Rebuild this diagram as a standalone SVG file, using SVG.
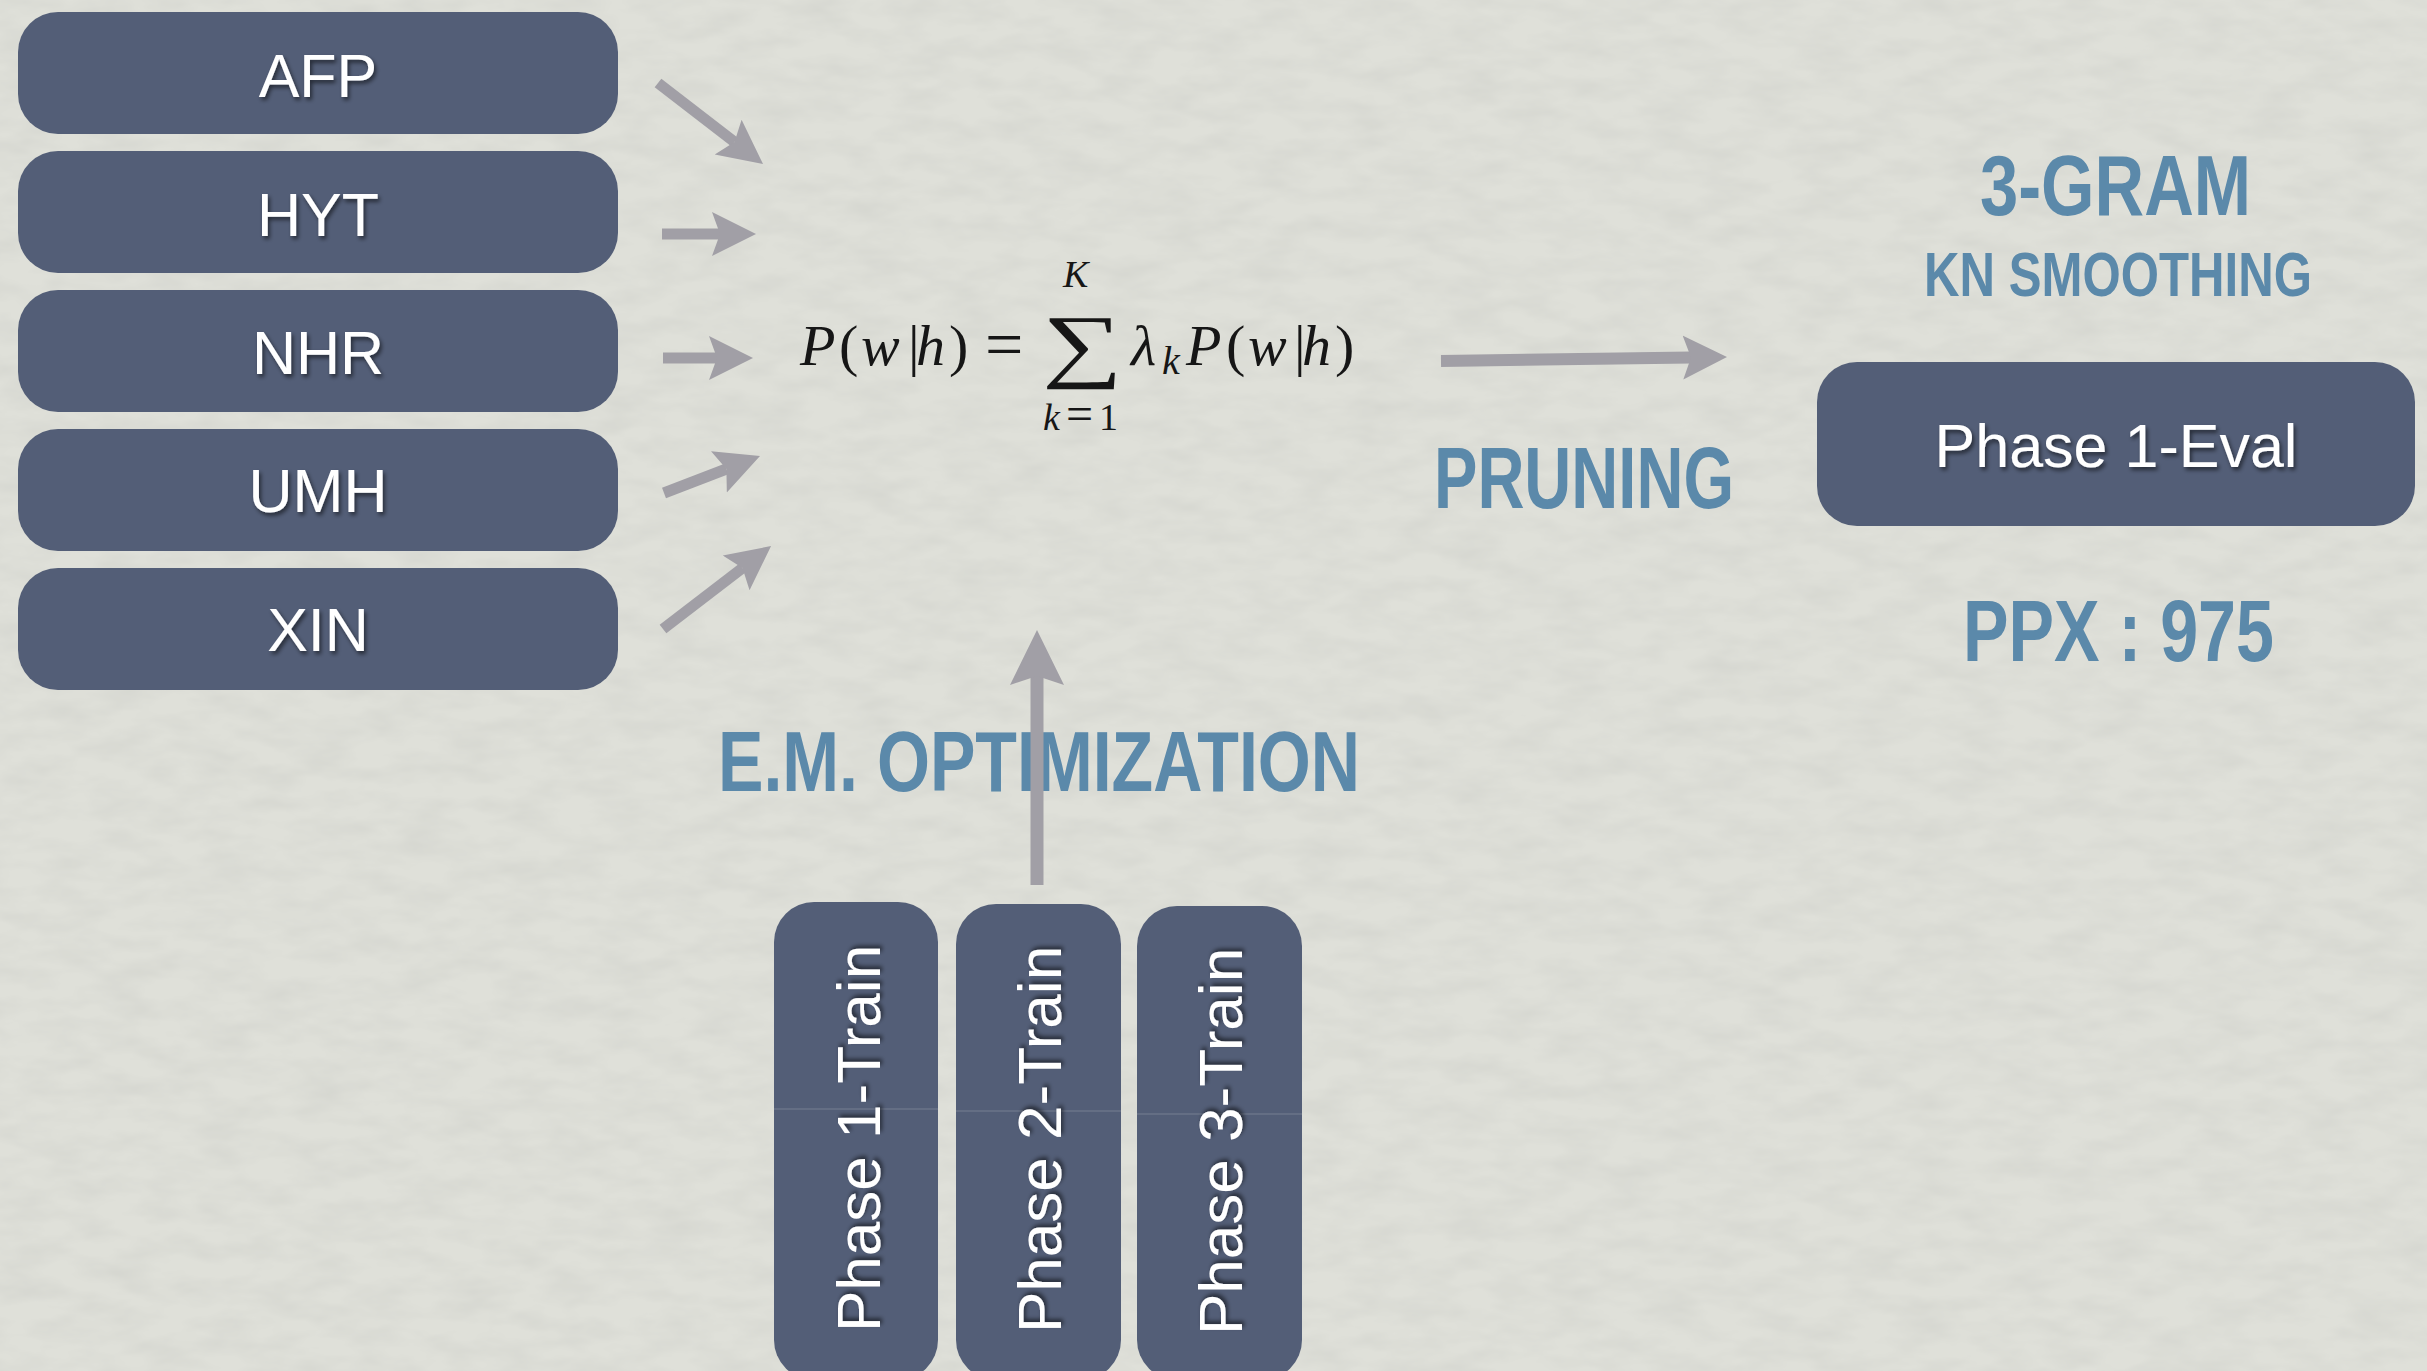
<svg xmlns="http://www.w3.org/2000/svg" width="2427" height="1371" viewBox="0 0 2427 1371">
  <defs>
    <filter id="paper" x="0" y="0" width="100%" height="100%">
      <feTurbulence type="fractalNoise" baseFrequency="0.02 0.05" numOctaves="3" seed="7" result="n"/>
      <feColorMatrix in="n" type="matrix" values="0 0 0 0 0.45  0 0 0 0 0.46  0 0 0 0 0.44  0.35 0 0 0 -0.12"/>
    </filter>
    <filter id="tshadow" x="-10%" y="-30%" width="130%" height="170%">
      <feDropShadow dx="2" dy="3" stdDeviation="2" flood-color="#000" flood-opacity="0.55"/>
    </filter>
    <filter id="vshadow" x="-40%" y="-10%" width="180%" height="130%">
      <feDropShadow dx="3" dy="2" stdDeviation="2" flood-color="#000" flood-opacity="0.55"/>
    </filter>
    <marker id="head" markerUnits="userSpaceOnUse" viewBox="0 -23 46 46" refX="8" refY="0" markerWidth="46" markerHeight="46" orient="auto">
      <path d="M0,-22 L44,0 L0,22 L8,0 Z" fill="#a19fa6"/>
    </marker>
    <marker id="headBig" markerUnits="userSpaceOnUse" viewBox="0 -28 58 56" refX="9" refY="0" markerWidth="58" markerHeight="56" orient="auto">
      <path d="M0,-27 L55,0 L0,27 L9,0 Z" fill="#a19fa6"/>
    </marker>
  </defs>
  <style>
    .box { fill: #535e77; }
    .lbl { font-family: "Liberation Sans", Arial, sans-serif; font-size: 61px; fill: #ffffff; text-anchor: middle; filter: url(#tshadow); }
    .vlbl { font-family: "Liberation Sans", Arial, sans-serif; font-size: 62px; fill: #ffffff; filter: url(#vshadow); }
    .head { font-family: "Liberation Sans", Arial, sans-serif; font-weight: bold; fill: #5b89aa; }
    .arrow { stroke: #a19fa6; fill: none; stroke-linecap: butt; }
    .m { font-family: "Liberation Serif", "DejaVu Serif", serif; fill: #161616; }
    .it { font-style: italic; }
    .seam { stroke: #7a8296; stroke-width: 1.5; opacity: 0.6; }
  </style>

  <rect x="0" y="0" width="2427" height="1371" fill="#dfe0d9"/>
  <rect x="0" y="0" width="2427" height="1371" filter="url(#paper)"/>

  <g id="node-AFP"><rect class="box" x="18" y="12" width="600" height="122" rx="40"/><text class="lbl" x="318" y="97">AFP</text></g>
  <g id="node-HYT"><rect class="box" x="18" y="151" width="600" height="122" rx="40"/><text class="lbl" x="318" y="236">HYT</text></g>
  <g id="node-NHR"><rect class="box" x="18" y="290" width="600" height="122" rx="40"/><text class="lbl" x="318" y="374">NHR</text></g>
  <g id="node-UMH"><rect class="box" x="18" y="429" width="600" height="122" rx="40"/><text class="lbl" x="318" y="512">UMH</text></g>
  <g id="node-XIN"><rect class="box" x="18" y="568" width="600" height="122" rx="40"/><text class="lbl" x="318" y="651">XIN</text></g>

  <g id="node-formula" class="m">
    <text y="365" font-size="58"><tspan x="800" class="it">P</tspan><tspan x="839">(</tspan><tspan x="861" class="it">w</tspan><tspan x="908">|</tspan><tspan x="916" class="it">h</tspan><tspan x="949">)</tspan></text>
    <text x="985" y="367" font-size="68">=</text>
    <text transform="translate(1082,372) scale(1.38,1)" font-size="82" text-anchor="middle">∑</text>
    <text x="1063" y="287" font-size="38" class="it">K</text>
    <text y="430" font-size="38"><tspan x="1043" class="it">k</tspan><tspan x="1066" font-size="48">=</tspan><tspan x="1099">1</tspan></text>
    <text x="1131" y="365" font-size="58" class="it">λ</text>
    <text x="1162" y="374" font-size="40" class="it">k</text>
    <text y="365" font-size="58"><tspan x="1186" class="it">P</tspan><tspan x="1226">(</tspan><tspan x="1248" class="it">w</tspan><tspan x="1294">|</tspan><tspan x="1302" class="it">h</tspan><tspan x="1335">)</tspan></text>
  </g>

  <g id="labels">
    <text class="head" x="1980" y="215" font-size="85" textLength="271" lengthAdjust="spacingAndGlyphs">3-GRAM</text>
    <text class="head" x="1924" y="296" font-size="63" textLength="388" lengthAdjust="spacingAndGlyphs">KN SMOOTHING</text>
    <text class="head" x="1434" y="508" font-size="87" textLength="300" lengthAdjust="spacingAndGlyphs">PRUNING</text>
    <text class="head" x="1963" y="661" font-size="87" textLength="311" lengthAdjust="spacingAndGlyphs">PPX : 975</text>
    <text class="head" x="718" y="791" font-size="85" textLength="642" lengthAdjust="spacingAndGlyphs">E.M. OPTIMIZATION</text>
  </g>

  <g id="node-eval"><rect class="box" x="1817" y="362" width="598" height="164" rx="40"/><text class="lbl" x="2116" y="467" font-size="62">Phase 1-Eval</text></g>

  <g id="node-train1"><rect class="box" x="774" y="902" width="164" height="478" rx="40"/><line class="seam" x1="774" y1="1109" x2="938" y2="1109"/><text class="vlbl" transform="translate(880,1332) rotate(-90)">Phase 1-Train</text></g>
  <g id="node-train2"><rect class="box" x="956" y="904" width="165" height="476" rx="40"/><line class="seam" x1="956" y1="1111" x2="1121" y2="1111"/><text class="vlbl" transform="translate(1061,1333) rotate(-90)">Phase 2-Train</text></g>
  <g id="node-train3"><rect class="box" x="1137" y="906" width="165" height="474" rx="40"/><line class="seam" x1="1137" y1="1114" x2="1302" y2="1114"/><text class="vlbl" transform="translate(1242,1335) rotate(-90)">Phase 3-Train</text></g>

  <g id="connectors">
    <line class="arrow" stroke-width="11" x1="658" y1="83" x2="734.5" y2="142" marker-end="url(#head)"/>
    <line class="arrow" stroke-width="11" x1="662" y1="234" x2="720" y2="234" marker-end="url(#head)"/>
    <line class="arrow" stroke-width="11" x1="663" y1="358" x2="717" y2="358" marker-end="url(#head)"/>
    <line class="arrow" stroke-width="11" x1="664" y1="493" x2="726.4" y2="469" marker-end="url(#head)"/>
    <line class="arrow" stroke-width="11" x1="663" y1="629" x2="742.5" y2="568" marker-end="url(#head)"/>
    <line class="arrow" stroke-width="12" x1="1441" y1="361" x2="1691" y2="357.5" marker-end="url(#head)"/>
    <line class="arrow" stroke-width="13" x1="1037" y1="885" x2="1037" y2="676" marker-end="url(#headBig)"/>
  </g>
</svg>
